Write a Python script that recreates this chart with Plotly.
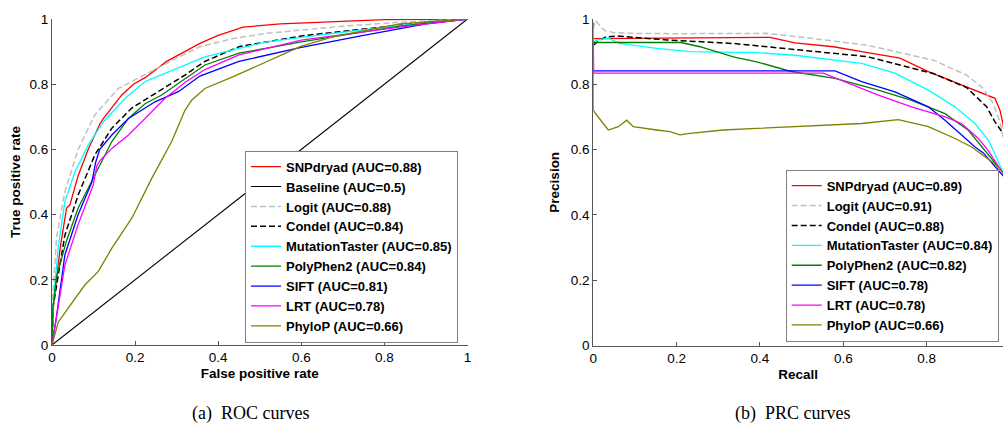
import plotly.graph_objects as go

# ---------------- ROC data (False positive rate, True positive rate) ----------------
roc_snp_x = [0, 0.003, 0.02, 0.035, 0.043, 0.063, 0.087, 0.116, 0.124, 0.168, 0.196, 0.224, 0.276, 0.304, 0.356, 0.40, 0.46, 0.55, 0.677, 0.8, 1]
roc_snp_y = [0, 0.12, 0.3, 0.42, 0.43, 0.52, 0.60, 0.68, 0.695, 0.767, 0.80, 0.82, 0.87, 0.89, 0.925, 0.95, 0.975, 0.985, 0.992, 0.998, 1]
roc_base_x = [0, 1]
roc_base_y = [0, 1]
roc_logit_x = [0, 0.002, 0.011, 0.031, 0.063, 0.103, 0.16, 0.236, 0.30, 0.356, 0.436, 0.517, 0.6, 0.7, 0.837, 1]
roc_logit_y = [0, 0.15, 0.33, 0.47, 0.60, 0.706, 0.787, 0.838, 0.88, 0.915, 0.94, 0.956, 0.966, 0.978, 0.99, 1]
roc_condel_x = [0, 0.003, 0.031, 0.063, 0.103, 0.144, 0.192, 0.256, 0.32, 0.368, 0.45, 0.6, 0.75, 0.9, 1]
roc_condel_y = [0, 0.12, 0.337, 0.46, 0.583, 0.665, 0.727, 0.777, 0.828, 0.87, 0.915, 0.948, 0.97, 0.99, 1]
roc_mt_x = [0, 0.003, 0.015, 0.031, 0.055, 0.087, 0.124, 0.176, 0.224, 0.304, 0.368, 0.45, 0.517, 0.677, 0.837, 1]
roc_mt_y = [0, 0.13, 0.30, 0.44, 0.53, 0.613, 0.685, 0.757, 0.808, 0.849, 0.884, 0.91, 0.93, 0.956, 0.98, 1]
roc_pp2_x = [0, 0.002, 0.011, 0.035, 0.063, 0.103, 0.144, 0.184, 0.224, 0.264, 0.32, 0.368, 0.45, 0.6, 0.837, 1]
roc_pp2_y = [0, 0.11, 0.21, 0.32, 0.42, 0.52, 0.624, 0.695, 0.74, 0.767, 0.818, 0.859, 0.895, 0.93, 0.978, 1]
roc_sift_x = [0, 0.01, 0.031, 0.063, 0.096, 0.105, 0.115, 0.144, 0.184, 0.248, 0.304, 0.356, 0.45, 0.597, 0.75, 0.9, 1]
roc_sift_y = [0, 0.08, 0.276, 0.40, 0.50, 0.56, 0.60, 0.644, 0.695, 0.746, 0.777, 0.825, 0.87, 0.912, 0.95, 0.985, 1]
roc_lrt_x = [0, 0.01, 0.031, 0.063, 0.099, 0.108, 0.115, 0.144, 0.184, 0.224, 0.272, 0.32, 0.368, 0.45, 0.6, 0.837, 1]
roc_lrt_y = [0, 0.08, 0.245, 0.37, 0.49, 0.55, 0.565, 0.603, 0.644, 0.695, 0.757, 0.805, 0.845, 0.89, 0.935, 0.975, 1]
roc_phylo_x = [0, 0.015, 0.039, 0.079, 0.111, 0.144, 0.192, 0.24, 0.288, 0.32, 0.336, 0.368, 0.436, 0.517, 0.597, 0.677, 0.837, 1]
roc_phylo_y = [0, 0.07, 0.113, 0.184, 0.225, 0.297, 0.389, 0.511, 0.624, 0.72, 0.751, 0.787, 0.823, 0.869, 0.915, 0.946, 0.985, 1]

# ---------------- PRC data (Recall, Precision) ----------------
prc_snp_x = [0, 0.424, 0.484, 0.576, 0.644, 0.736, 0.804, 0.884, 0.964, 0.976, 0.983, 1]
prc_snp_y = [0.94, 0.944, 0.927, 0.915, 0.90, 0.88, 0.839, 0.798, 0.757, 0.72, 0.68, 0.52]
prc_logit_x = [0, 0.005, 0.027, 0.05, 0.096, 0.2, 0.416, 0.496, 0.656, 0.816, 0.896, 0.936, 0.96, 0.976, 0.983, 1]
prc_logit_y = [0.97, 0.995, 0.965, 0.958, 0.956, 0.955, 0.956, 0.945, 0.92, 0.874, 0.828, 0.787, 0.74, 0.685, 0.64, 0.6]
prc_condel_x = [0, 0.01, 0.03, 0.056, 0.176, 0.336, 0.496, 0.656, 0.816, 0.896, 0.944, 0.964, 0.983, 1]
prc_condel_y = [0.92, 0.93, 0.945, 0.948, 0.936, 0.925, 0.905, 0.885, 0.833, 0.79, 0.731, 0.685, 0.65, 0.63]
prc_mt_x = [0, 0.01, 0.036, 0.064, 0.152, 0.232, 0.392, 0.484, 0.644, 0.724, 0.804, 0.868, 0.916, 0.948, 0.96, 0.983, 1]
prc_mt_y = [0.93, 0.936, 0.941, 0.925, 0.91, 0.9, 0.897, 0.889, 0.864, 0.834, 0.782, 0.731, 0.68, 0.628, 0.597, 0.53, 0.51]
prc_pp2_x = [0, 0.21, 0.256, 0.336, 0.392, 0.472, 0.58, 0.684, 0.764, 0.844, 0.9, 0.932, 0.983, 1]
prc_pp2_y = [0.928, 0.928, 0.915, 0.884, 0.869, 0.84, 0.818, 0.782, 0.751, 0.71, 0.659, 0.608, 0.53, 0.51]
prc_sift_x = [0, 0.58, 0.644, 0.724, 0.804, 0.844, 0.884, 0.916, 0.936, 0.983, 1]
prc_sift_y = [0.841, 0.841, 0.808, 0.777, 0.731, 0.69, 0.645, 0.608, 0.59, 0.52, 0.51]
prc_lrt_x = [0, 0.001, 0.552, 0.604, 0.684, 0.764, 0.844, 0.884, 0.924, 0.948, 0.983, 1]
prc_lrt_y = [0.93, 0.834, 0.834, 0.808, 0.767, 0.731, 0.70, 0.68, 0.634, 0.597, 0.527, 0.51]
prc_phylo_x = [0, 0, 0.008, 0.024, 0.036, 0.06, 0.08, 0.096, 0.12, 0.152, 0.184, 0.208, 0.232, 0.312, 0.392, 0.484, 0.644, 0.732, 0.804, 0.868, 0.908, 0.96, 0.983, 1]
prc_phylo_y = [0.99, 0.72, 0.706, 0.68, 0.66, 0.67, 0.69, 0.67, 0.665, 0.66, 0.655, 0.645, 0.65, 0.66, 0.665, 0.67, 0.68, 0.692, 0.67, 0.634, 0.608, 0.56, 0.53, 0.51]

roc_names = ["SNPdryad (AUC=0.88)", "Baseline (AUC=0.5)", "Logit (AUC=0.88)", "Condel (AUC=0.84)",
             "MutationTaster (AUC=0.85)", "PolyPhen2 (AUC=0.84)", "SIFT (AUC=0.81)", "LRT (AUC=0.78)",
             "PhyloP (AUC=0.66)"]
prc_names = ["SNPdryad (AUC=0.89)", "Logit (AUC=0.91)", "Condel (AUC=0.88)", "MutationTaster (AUC=0.84)",
             "PolyPhen2 (AUC=0.82)", "SIFT (AUC=0.78)", "LRT (AUC=0.78)", "PhyloP (AUC=0.66)"]
tick_vals = [0, 0.2, 0.4, 0.6, 0.8, 1]
tick_text = ["0", "0.2", "0.4", "0.6", "0.8", "1"]

roc_series = [(roc_snp_x, roc_snp_y), (roc_base_x, roc_base_y), (roc_logit_x, roc_logit_y),
              (roc_condel_x, roc_condel_y), (roc_mt_x, roc_mt_y), (roc_pp2_x, roc_pp2_y),
              (roc_sift_x, roc_sift_y), (roc_lrt_x, roc_lrt_y), (roc_phylo_x, roc_phylo_y)]
roc_styles = [("#ff0000", "solid", 1.3), ("#000000", "solid", 1.1), ("#c0c0c0", "6px,3px", 1.5),
              ("#000000", "6px,3px", 1.5), ("#00ffff", "solid", 1.3), ("#008000", "solid", 1.3),
              ("#0000ff", "solid", 1.3), ("#ff00ff", "solid", 1.3), ("#808000", "solid", 1.3)]
prc_series = [(prc_snp_x, prc_snp_y), (prc_logit_x, prc_logit_y), (prc_condel_x, prc_condel_y),
              (prc_mt_x, prc_mt_y), (prc_pp2_x, prc_pp2_y), (prc_sift_x, prc_sift_y),
              (prc_lrt_x, prc_lrt_y), (prc_phylo_x, prc_phylo_y)]
prc_styles = [roc_styles[0]] + roc_styles[2:]

fig = go.Figure()
for (xs, ys), name, (c, d, w) in zip(roc_series, roc_names, roc_styles):
    fig.add_trace(go.Scatter(x=xs, y=ys, mode="lines", name=name, line=dict(color=c, dash=d, width=w),
                             xaxis="x", yaxis="y", legend="legend"))
for (xs, ys), name, (c, d, w) in zip(prc_series, prc_names, prc_styles):
    fig.add_trace(go.Scatter(x=xs, y=ys, mode="lines", name=name, line=dict(color=c, dash=d, width=w),
                             xaxis="x2", yaxis="y2", legend="legend2"))

W, H = 1003, 423
axis_font = dict(family="Liberation Sans, Arial, sans-serif", size=13.5, color="#000000")
title_font = dict(family="Liberation Sans, Arial, sans-serif", size=13.5, color="#000000")
common = dict(showgrid=False, zeroline=False, showline=True, linecolor="#555555", linewidth=1,
              ticks="inside", ticklen=4, tickcolor="#555555", tickfont=axis_font,
              tickvals=tick_vals, ticktext=tick_text, mirror=False, automargin=False)

legend_common = dict(font=dict(family="Liberation Sans, Arial, sans-serif", size=13, color="#000000", weight="bold"),
                     bgcolor="#ffffff", bordercolor="#808080", borderwidth=1,
                     xanchor="left", yanchor="bottom", tracegroupgap=0)

fig.update_layout(
    width=W, height=H, margin=dict(l=0, r=0, t=0, b=0, autoexpand=False),
    paper_bgcolor="#ffffff", plot_bgcolor="#ffffff",
    xaxis=dict(domain=[52 / W, 467.5 / W], range=[0, 1], anchor="y",
               title=dict(text="<b>False positive rate</b>", font=title_font, standoff=4), **common),
    yaxis=dict(domain=[(H - 345) / H, (H - 19) / H], range=[0, 1], anchor="x",
               title=dict(text="<b>True positive rate</b>", font=title_font, standoff=5), **common),
    xaxis2=dict(domain=[593.3 / W, 1.0], range=[0, (W - 593.3) / 416.7], anchor="y2",
                title=dict(text="<b>Recall</b>", font=title_font, standoff=4), **common),
    yaxis2=dict(domain=[(H - 345.5) / H, (H - 19) / H], range=[0, 1], anchor="x2",
                title=dict(text="<b>Precision</b>", font=title_font, standoff=8), **common),
    legend=dict(x=245 / W, y=(H - 342.7) / H, **legend_common),
    legend2=dict(x=785.7 / W, y=(H - 341.7) / H, **legend_common),
    showlegend=True,
    annotations=[
        dict(text="(a)  ROC curves", x=250 / W, y=(H - 413) / H, xref="paper", yref="paper",
             xanchor="center", yanchor="middle", showarrow=False,
             font=dict(family="Liberation Serif, Times New Roman, serif", size=18, color="#000000")),
        dict(text="(b)  PRC curves", x=792.5 / W, y=(H - 413) / H, xref="paper", yref="paper",
             xanchor="center", yanchor="middle", showarrow=False,
             font=dict(family="Liberation Serif, Times New Roman, serif", size=18, color="#000000")),
    ],
)

fig.write_html("out.html", config={"displayModeBar": False},
               post_script="document.body.style.margin='0';document.body.style.padding='0';"
                           "document.body.style.overflow='hidden';")
